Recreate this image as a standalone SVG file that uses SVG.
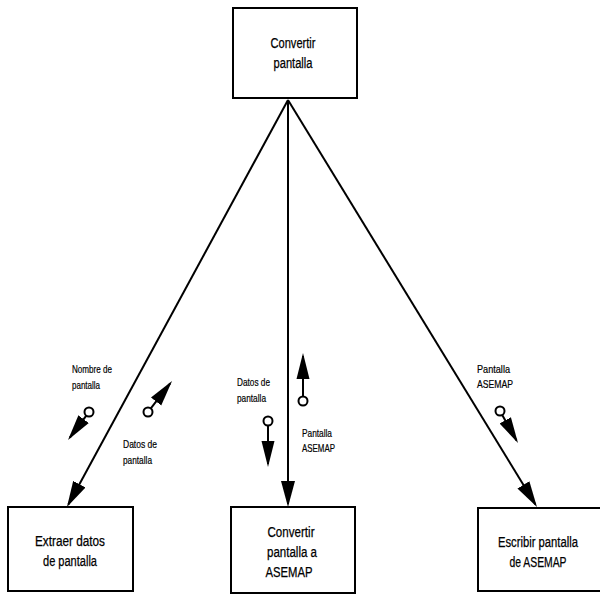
<svg xmlns="http://www.w3.org/2000/svg" width="600" height="595" viewBox="0 0 600 595">
  <style>
    .box { fill: #ffffff; stroke: #000000; stroke-width: 2; }
    .conn { fill: none; stroke: #000000; stroke-width: 2; }
    .couple { fill: none; stroke: #000000; stroke-width: 2; }
    .ring { fill: #ffffff; stroke: #000000; stroke-width: 2; }
    .name { font-family: "Liberation Sans", Arial, sans-serif; font-size: 14px; fill: #000000; stroke: #000000; stroke-width: 0.25; text-anchor: middle; }
    .lbl { font-family: "Liberation Sans", Arial, sans-serif; font-size: 11px; fill: #000000; stroke: #000000; stroke-width: 0.2; }
  </style>
  <defs>
    <marker id="callHead" markerUnits="userSpaceOnUse" markerWidth="26" markerHeight="15" refX="23" refY="7.5" orient="auto">
      <path d="M0,0.5 L26,7.5 L0,14.5 z" fill="#000000"/>
    </marker>
    <marker id="dataHead" markerUnits="userSpaceOnUse" markerWidth="26" markerHeight="15" refX="23" refY="7.5" orient="auto">
      <path d="M0,1 L26,7.5 L0,14 z" fill="#000000"/>
    </marker>
  </defs>

  <rect width="600" height="595" fill="#ffffff"/>

  <!-- calls from the main module to its three subordinates -->
  <g id="connectors">
    <path class="conn" d="M288,100 L68.4,504.4" marker-end="url(#callHead)"/>
    <path class="conn" d="M288,100 L288,504" marker-end="url(#callHead)"/>
    <path class="conn" d="M288,100 L535.4,504.4" marker-end="url(#callHead)"/>
  </g>

  <!-- data couples travelling along each call -->
  <g id="couples">
    <g id="couple-nombre">
      <circle class="ring" cx="89" cy="412" r="4.5"/>
      <path class="couple" d="M86.3,415.6 L69.8,437.6" marker-end="url(#dataHead)"/>
      <text class="lbl" x="72" y="373" textLength="40" lengthAdjust="spacingAndGlyphs">Nombre de</text>
      <text class="lbl" x="72" y="389" textLength="28" lengthAdjust="spacingAndGlyphs">pantalla</text>
    </g>
    <g id="couple-datos-extraidos">
      <circle class="ring" cx="148" cy="412" r="4.5"/>
      <path class="couple" d="M150.8,408.4 L170.2,383.4" marker-end="url(#dataHead)"/>
      <text class="lbl" x="123" y="448" textLength="34" lengthAdjust="spacingAndGlyphs">Datos de</text>
      <text class="lbl" x="123" y="464" textLength="29" lengthAdjust="spacingAndGlyphs">pantalla</text>
    </g>
    <g id="couple-datos-entrada">
      <circle class="ring" cx="268" cy="421" r="4.5"/>
      <path class="couple" d="M268,425.5 L268,464" marker-end="url(#dataHead)"/>
      <text class="lbl" x="237" y="386" textLength="33" lengthAdjust="spacingAndGlyphs">Datos de</text>
      <text class="lbl" x="237" y="402" textLength="29" lengthAdjust="spacingAndGlyphs">pantalla</text>
    </g>
    <g id="couple-asemap-salida">
      <circle class="ring" cx="303" cy="401" r="4.5"/>
      <path class="couple" d="M303,396.5 L303,356" marker-end="url(#dataHead)"/>
      <text class="lbl" x="302" y="437" textLength="30" lengthAdjust="spacingAndGlyphs">Pantalla</text>
      <text class="lbl" x="302" y="452" textLength="33" lengthAdjust="spacingAndGlyphs">ASEMAP</text>
    </g>
    <g id="couple-asemap-escritura">
      <circle class="ring" cx="500" cy="411" r="4.5"/>
      <path class="couple" d="M502.2,414.9 L516.5,440.4" marker-end="url(#dataHead)"/>
      <text class="lbl" x="477" y="373" textLength="33" lengthAdjust="spacingAndGlyphs">Pantalla</text>
      <text class="lbl" x="477" y="388" textLength="36" lengthAdjust="spacingAndGlyphs">ASEMAP</text>
    </g>
  </g>

  <!-- modules -->
  <g id="convertir-pantalla">
    <rect class="box" x="233" y="8" width="124" height="90"/>
    <text class="name" x="293" y="48" textLength="45" lengthAdjust="spacingAndGlyphs">Convertir</text>
    <text class="name" x="293" y="68" textLength="39" lengthAdjust="spacingAndGlyphs">pantalla</text>
  </g>

  <g id="extraer-datos">
    <rect class="box" x="8" y="507" width="125" height="84"/>
    <text class="name" x="70" y="546" textLength="70" lengthAdjust="spacingAndGlyphs">Extraer datos</text>
    <text class="name" x="70" y="566" textLength="54" lengthAdjust="spacingAndGlyphs">de pantalla</text>
  </g>

  <g id="convertir-asemap">
    <rect class="box" x="231" y="507" width="124" height="86"/>
    <text class="name" x="291" y="537" textLength="47" lengthAdjust="spacingAndGlyphs">Convertir</text>
    <text class="name" x="292" y="557" textLength="50" lengthAdjust="spacingAndGlyphs">pantalla a</text>
    <text class="name" x="289" y="577" textLength="47" lengthAdjust="spacingAndGlyphs">ASEMAP</text>
  </g>

  <g id="escribir-asemap">
    <rect class="box" x="478" y="508" width="124" height="83"/>
    <text class="name" x="538" y="547" textLength="80" lengthAdjust="spacingAndGlyphs">Escribir pantalla</text>
    <text class="name" x="538" y="567" textLength="57" lengthAdjust="spacingAndGlyphs">de ASEMAP</text>
  </g>
</svg>
